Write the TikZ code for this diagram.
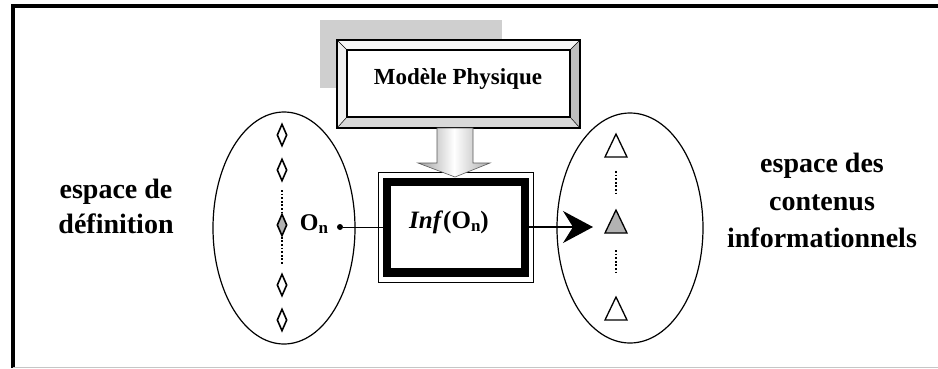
\documentclass[tikz,border=0pt]{standalone}
\usepackage{fontspec}
\setmainfont{Liberation Serif}
\usetikzlibrary{shapes.geometric,arrows.meta}
\newcommand{\subn}{\raisebox{-3.5pt}{\fontsize{17}{17}\selectfont n}}
\begin{document}
\begin{tikzpicture}[x=1pt,y=-1pt,
  lbl/.style={font=\fontsize{28}{35}\selectfont\bfseries, inner sep=0, anchor=base},
  dia/.style={diamond, draw=black, line width=1.6pt, inner sep=0, minimum width=10pt, minimum height=22pt, fill=white},
  tri/.style={draw=black, line width=1.3pt, line join=miter},
  dots/.style={line width=2pt, dash pattern=on 1.8pt off 1.8pt},
  oval/.style={draw=black, line width=1.2pt},
]
\useasboundingbox (0,0) rectangle (938,368);
% frame
\draw[line width=4pt] (12.5,368) -- (12.5,6) -- (938,6);
\draw[gray!45, line width=1pt] (12.5,367.5) -- (938,367.5);

% shadow and bevelled box
\fill[gray!38] (320,20) rectangle (502,88);
\fill[gray!6]  (337,40) -- (580,40) -- (570,50) -- (347,50) -- cycle;
\fill[gray!12] (337,40) -- (347,50) -- (347,117) -- (337,128) -- cycle;
\fill[gray!50] (580,40) -- (580,128) -- (570,117) -- (570,50) -- cycle;
\fill[gray!30] (337,128) -- (580,128) -- (570,117) -- (347,117) -- cycle;
\draw[line width=0.5pt] (337,40) -- (347,50) (580,40) -- (570,50) (337,128) -- (347,117) (580,128) -- (570,117);
\node[draw=black, line width=1.4pt, minimum width=243pt, minimum height=88pt, inner sep=0] (mpo) at (458.5,84) {};
\node[draw=black, line width=1.4pt, minimum width=223pt, minimum height=67pt, inner sep=0, fill=white] (mp) at (458.5,83.5) {};
\node[font=\fontsize{23}{23}\selectfont\bfseries, inner sep=0, anchor=base] (mptext) at (458,84) {Modèle Physique};

% ellipses
\node[oval, ellipse, minimum width=142pt, minimum height=232pt, inner sep=0] (left) at (284,228) {};
\node[oval, ellipse, minimum width=146pt, minimum height=230pt, inner sep=0] (right) at (630,228) {};

% Inf box
\node[draw=black, line width=0.8pt, minimum width=155pt, minimum height=110pt, inner sep=0] (info) at (455.5,227) {};
\node[draw=black, line width=8.5pt, minimum width=138pt, minimum height=90.5pt, inner sep=0] (inf) at (456,227) {};
\node[font=\fontsize{25}{25}\selectfont\bfseries, inner sep=0] (inftext) at (449,222) {\textit{Inf}(O\subn)};

% block arrow
\shade[left color=gray!75, right color=gray!65, middle color=white, draw=gray!70!black, line width=0.6pt]
  (437,128) -- (473,128) -- (473,163) -- (490,163) -- (455,177) -- (418,163) -- (437,163) -- cycle;

% diamonds
\node[dia] (d1) at (282,135) {};
\node[dia] (d2) at (282,170) {};
\node[dia, fill=gray!60] (d3) at (282,225) {};
\node[dia] (d4) at (282,285) {};
\node[dia] (d5) at (282,320) {};
\draw[dots] (282,190) -- (d3.north);
\draw[dots] (d3.south) -- (282,265);

% On
\node[font=\fontsize{24}{24}\selectfont\bfseries, inner sep=0] (on) at (314,224) {O\subn};
\node[circle, fill=black, inner sep=0, minimum size=6pt] (dot) at (340,227) {};
\draw[line width=1pt] (dot) -- (inf.west);

% triangles
\draw[tri] (605,157) -- (627,157) -- (616,134) -- cycle;
\draw[tri, fill=gray!60] (605,233) -- (627,233) -- (616,210) -- cycle;
\draw[tri] (605,320) -- (627,320) -- (616,297) -- cycle;
\draw[dots] (616,171) -- (616,193);
\draw[dots] (616,250) -- (616,273);

% arrow
\coordinate (tarr) at (593,227);
\draw[line width=1.2pt, -{Stealth[length=30pt,width=32pt,inset=10pt]}] (inf.east) -- (tarr);

% labels
\node[lbl] (la1) at (116,198) {espace de};
\node[lbl] (la2) at (116,233) {définition};
\node[lbl] (lb1) at (822,172) {espace des};
\node[lbl] (lb2) at (822,210) {contenus};
\node[lbl] (lb3) at (822,247) {informationnels};
\end{tikzpicture}
\end{document}
